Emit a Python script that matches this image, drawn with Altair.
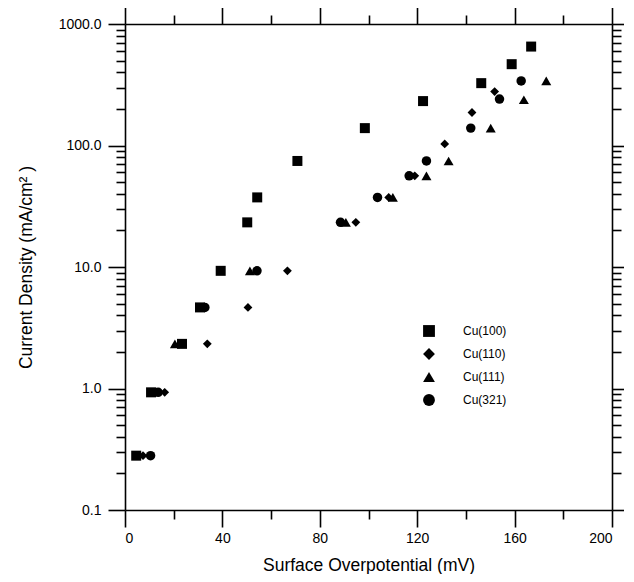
import altair as alt
import pandas as pd

FONT = "Liberation Sans"

surfaces = ["Cu(100)", "Cu(110)", "Cu(111)", "Cu(321)"]
shapes = ["square", "diamond", "triangle-up", "circle"]
sizes = [100, 78, 100, 90]

cu100_mv = [4.6, 10.7, 23.4, 30.8, 39.3, 50.2, 54.3, 70.8, 98.5, 122.4, 146.3, 158.8, 166.8]
cu100_j = [0.28, 0.93, 2.33, 4.65, 9.3, 23.3, 37.4, 74.6, 139, 232, 326, 467, 652]

cu110_mv = [7.4, 16.3, 33.8, 50.5, 66.7, 94.8, 108.3, 119.0, 131.3, 142.5, 151.8]
cu110_j = [0.28, 0.93, 2.33, 4.65, 9.3, 23.3, 37.4, 56.3, 103, 187, 278]

cu111_mv = [20.5, 51.3, 90.7, 110.0, 123.8, 132.9, 150.2, 163.8, 173.0]
cu111_j = [2.33, 9.3, 23.3, 37.4, 56.3, 74.6, 139, 238, 340]

cu321_mv = [10.5, 13.6, 32.8, 54.2, 88.5, 103.7, 116.7, 123.8, 142.0, 153.8, 162.7]
cu321_j = [0.28, 0.93, 4.65, 9.3, 23.3, 37.4, 56.3, 74.6, 139, 241, 340]

x_major = [0, 40, 80, 120, 160, 200]
x_minor = [20, 60, 100, 140, 180]
y_major = [0.1, 1, 10, 100, 1000]
y_minor = [m * d for d in [0.1, 1, 10, 100] for m in range(2, 10)]

series = [("Cu(100)", cu100_mv, cu100_j), ("Cu(110)", cu110_mv, cu110_j),
          ("Cu(111)", cu111_mv, cu111_j), ("Cu(321)", cu321_mv, cu321_j)]
rows = []
for name, xs, ys in series:
    for xv, yv in zip(xs, ys):
        rows.append({"surface": name, "eta": xv, "j": yv})
df = pd.DataFrame(rows)

xscale = alt.Scale(domain=[0, 200], nice=False, zero=False)
yscale = alt.Scale(type="log", domain=[0.1, 1000], nice=False)

AX = dict(domainColor="black", tickColor="black", domainWidth=1.6, tickWidth=1.6,
          grid=False, labelFont=FONT, titleFont=FONT, labelColor="black", titleColor="black")

base = alt.Chart(df)

x_main = alt.X("eta:Q", scale=xscale, axis=alt.Axis(
    orient="bottom", values=x_major, format="d", tickSize=17, labelFontSize=14,
    labelPadding=4, title="Surface Overpotential (mV)", titleFontSize=17.5,
    titleFontWeight="normal", titlePadding=11, **AX))
y_main = alt.Y("j:Q", scale=yscale, axis=alt.Axis(
    orient="left", values=y_major, format=".1f", tickSize=17, labelFontSize=14,
    labelPadding=7, title="Current Density (mA/cm² )", titleFontSize=17.5,
    titleFontWeight="normal", titlePadding=23, **AX))

shape_enc = alt.Shape("surface:N", scale=alt.Scale(domain=surfaces, range=shapes),
                      legend=alt.Legend(orient="none", legendX=298, legendY=301, title=None,
                                        symbolSize=140, symbolFillColor="black",
                                        symbolStrokeColor="black", symbolStrokeWidth=0,
                                        labelFont=FONT, labelFontSize=12, labelColor="black",
                                        labelOffset=28, rowPadding=11, padding=0))

point_layers = []
for i, (name, size) in enumerate(zip(surfaces, sizes)):
    enc = dict(shape=shape_enc)
    if i == 0:
        enc.update(x=x_main, y=y_main)
    else:
        enc.update(x=alt.X("eta:Q", scale=xscale), y=alt.Y("j:Q", scale=yscale))
    point_layers.append(
        base.transform_filter(alt.datum.surface == name)
        .mark_point(filled=True, color="black", opacity=1, size=size)
        .encode(**enc)
    )


def ghost(xaxis, yaxis):
    return base.mark_point(opacity=0).encode(
        x=alt.X("eta:Q", scale=xscale, axis=xaxis),
        y=alt.Y("j:Q", scale=yscale, axis=yaxis),
    )


g1 = ghost(alt.Axis(orient="bottom", values=x_minor, tickSize=9, labels=False, domain=False, title=None, **AX),
           alt.Axis(orient="left", values=y_minor, tickSize=9, labels=False, domain=False, title=None, **AX))
g2 = ghost(alt.Axis(orient="top", values=x_major, tickSize=17, labels=False, title=None, **AX),
           alt.Axis(orient="right", values=y_major, tickSize=17, labels=False, title=None, **AX))
g3 = ghost(alt.Axis(orient="top", values=x_minor, tickSize=9, labels=False, domain=False, title=None, **AX),
           alt.Axis(orient="right", values=y_minor, tickSize=9, labels=False, domain=False, title=None, **AX))

points = alt.layer(*point_layers)

chart = alt.layer(points, g1, g2, g3).resolve_axis(x="independent", y="independent").properties(
    width=487, height=486,
    autosize=alt.AutoSizeParams(type="none"),
    padding={"left": 117, "top": 16, "right": 12, "bottom": 64},
    background="white",
).configure_view(strokeWidth=0)

chart.save("out.html", embed_options={"renderer": "svg", "actions": False})
